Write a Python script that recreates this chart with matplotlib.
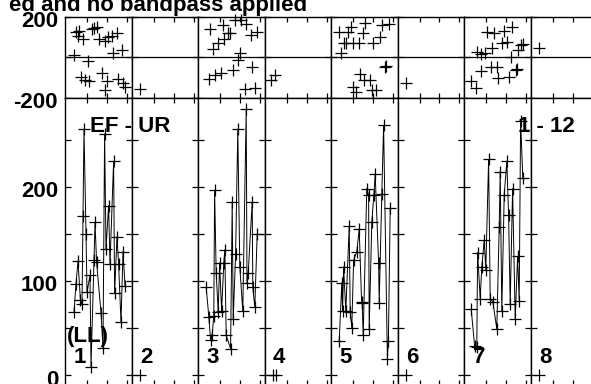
import numpy as np
import matplotlib.pyplot as plt
from matplotlib.transforms import blended_transform_factory, ScaledTranslation

plt.rcParams['font.family'] = ['Liberation Sans', 'DejaVu Sans']
plt.rcParams['font.weight'] = 'bold'
plt.rcParams['font.size'] = 16

# baseline panels, times in hours within each panel
panel_labels = ['1', '2', '3', '4', '5', '6', '7', '8']

amp_t1 = [0.35, 0.45, 0.55, 0.67, 0.75, 0.8, 0.85, 0.95, 1.0, 1.15, 1.2, 1.35, 1.4, 1.48,
          1.7, 1.8, 1.88, 1.95, 2.08, 2.15, 2.33, 2.38, 2.5, 2.58, 2.7, 2.8, 2.9]
amp1 = [67, 97, 121, 80, 75, 169, 261, 150, 88, 106, 9, 122, 162, 120,
        66, 29, 256, 134, 180, 118, 227, 87, 147, 118, 56, 131, 95]
ph_t1 = [0.35, 0.45, 0.53, 0.58, 0.68, 0.78, 0.92, 1.05, 1.12, 1.23, 1.35, 1.48, 1.62,
         1.75, 1.9, 1.92, 2.02, 2.03, 2.23, 2.28, 2.48, 2.57, 2.73, 2.82, 2.9]
ph1 = [11, 122, 105, 128, -96, 89, -112, -18, -117, 138, 143, 148, 89,
       -76, -161, 80, -120, 102, 107, 23, 118, -109, 36, -128, -145]

amp_t2, amp2, ph_t2, ph2 = [0.32], [0], [0.32], [-158]

amp_t3 = [0.31, 0.44, 0.53, 0.61, 0.69, 0.73, 0.81, 0.91, 0.98, 1.08, 1.19, 1.24, 1.31, 1.53,
          1.61, 1.66, 1.78, 1.89, 1.99, 2.14, 2.31, 2.35, 2.41, 2.61, 2.64, 2.74, 2.86]
amp3 = [93, 62, 37, 43, 63, 196, 108, 67, 119, 68, 119, 133, 42, 28,
        184, 59, 128, 261, 115, 68, 282, 98, 108, 184, 93, 72, 150]
ph_t3 = [0.44, 0.48, 0.64, 0.73, 0.89, 1.06, 1.14, 1.18, 1.39, 1.48, 1.64,
         1.73, 1.89, 1.98, 2.06, 2.23, 2.31, 2.56, 2.58, 2.73, 2.84]
ph3 = [-109, 138, 40, -87, 72, -79, 160, 89, 118, 121, -63,
       184, -13, 20, 184, -158, 164, 110, -46, -153, 126]

amp_t4, amp4, ph_t4, ph4 = [0.3, 0.45], [0, 0], [0.24, 0.4], [-112, -87]

amp_t5 = [0.31, 0.44, 0.48, 0.53, 0.64, 0.81, 0.86, 0.94, 1.03, 1.19, 1.31, 1.43, 1.46, 1.51,
          1.69, 1.78, 1.81, 1.94, 2.04, 2.11, 2.28, 2.31, 2.44, 2.53, 2.72, 2.77, 2.86]
amp5 = [36, 98, 68, 115, 68, 158, 67, 50, 122, 131, 155, 78, 76, 42,
        198, 191, 49, 162, 191, 213, 119, 77, 192, 265, 17, 36, 177]
ph_t5 = [0.29, 0.41, 0.53, 0.66, 0.74, 0.91, 0.99, 1.0, 1.16, 1.29, 1.36, 1.49,
         1.53, 1.61, 1.86, 1.96, 1.99, 2.16, 2.33, 2.46, 2.58, 2.63, 2.79]
ph5 = [122, 20, 69, 71, 126, 151, 69, -148, -170, 69, -82, 118,
       -112, 168, -112, -161, 72, -161, 102, 160, -46, -41, 164]

amp_t6, amp6, ph_t6, ph6 = [0.3], [0], [0.3], [-128]

amp_t7 = [0.26, 0.43, 0.54, 0.58, 0.71, 0.79, 0.91, 0.99, 1.13, 1.21, 1.34, 1.54, 1.66,
          1.71, 1.79, 1.91, 2.04, 2.13, 2.21, 2.33, 2.46, 2.58, 2.66, 2.73, 2.84]
amp7 = [70, 31, 30, 130, 81, 115, 143, 112, 229, 81, 78, 49, 157,
        216, 68, 191, 227, 170, 75, 198, 60, 126, 79, 270, 209]
ph_t7 = [0.23, 0.48, 0.53, 0.73, 0.76, 0.93, 1.03, 1.23, 1.31, 1.39, 1.53, 1.59,
         1.81, 1.89, 2.03, 2.14, 2.23, 2.31, 2.48, 2.56, 2.59, 2.73, 2.83]
ph7 = [-120, -153, 28, -66, 16, 23, 126, -46, 44, 118, -46, -104,
       69, 131, 77, -99, 3, 151, -63, -60, 36, 61, 66]

amp_t8, amp8, ph_t8, ph8 = [0.3], [0], [0.3], [47]

amp_t = [amp_t1, amp_t2, amp_t3, amp_t4, amp_t5, amp_t6, amp_t7, amp_t8]
amps = [amp1, amp2, amp3, amp4, amp5, amp6, amp7, amp8]
ph_t = [ph_t1, ph_t2, ph_t3, ph_t4, ph_t5, ph_t6, ph_t7, ph_t8]
phs = [ph1, ph2, ph3, ph4, ph5, ph6, ph7, ph8]

W, H = 591, 384
fig = plt.figure(figsize=(W / 100, H / 100), dpi=100)
shift = ScaledTranslation(0, -2.5 / 100, fig.dpi_scale_trans)

x0, pw = 65, 66.5
for i in range(8):
    left = (x0 + i * pw) / W
    ax_top = fig.add_axes([left, 1 - 97.7 / H, pw / W, 81 / H])
    ax_bot = fig.add_axes([left, 1 - 385 / H, pw / W, 287.3 / H])

    for ax in (ax_top, ax_bot):
        ax.set_xlim(-0.1, 3.225)
        ax.set_xticks([1, 2, 3])
        ax.tick_params(axis='x', direction='in', top=True, bottom=True,
                       labelbottom=False, length=3.3, width=0.9)
        ax.tick_params(axis='y', direction='in', left=True, right=True,
                       length=4.3, width=0.9, pad=5, labelsize=16)
        for sp in ax.spines.values():
            sp.set_linewidth(1.0)

    # phase
    ax_top.set_ylim(-200, 200)
    ax_top.set_yticks([-200, 0, 200])
    ax_top.axhline(0, color='k', lw=0.9)
    ax_top.plot(ph_t[i], phs[i], '+', color='k', ms=9, mew=0.9, clip_on=False)

    # amplitude
    ax_bot.set_ylim(-10.6, 294.5)
    ax_bot.set_yticks(np.arange(0, 300, 50))
    ax_bot.plot(amp_t[i], amps[i], '-', color='k', lw=0.7)
    ax_bot.plot(amp_t[i], amps[i], '+', color='k', ms=9, mew=0.9)

    if i == 0:
        ax_top.set_yticklabels(['-200', '', '200'], fontweight='bold')
        ax_bot.set_yticklabels(['0', '', '100', '', '200', ''], fontweight='bold')
        for lab in ax_top.get_yticklabels() + ax_bot.get_yticklabels():
            lab.set_transform(lab.get_transform() + shift)
    else:
        ax_top.tick_params(axis='y', labelleft=False)
        ax_bot.tick_params(axis='y', labelleft=False)

    tr = blended_transform_factory(ax_bot.transAxes, ax_bot.transData)
    ax_bot.text(0.128, 12.4, panel_labels[i], transform=tr, ha='left',
                va='baseline', fontsize=16, fontweight='bold')
    if i == 0:
        ax_bot.text(0.03, 35.4, '(LL)', transform=tr, ha='left',
                    va='baseline', fontsize=16, fontweight='bold')

fig.text(90 / W, 1 - 131.7 / H, 'EF - UR', ha='left', va='baseline',
         fontsize=16, fontweight='bold')
fig.text(518 / W, 1 - 131.7 / H, '1 - 12', ha='left', va='baseline',
         fontsize=16, fontweight='bold')
fig.text(307 / W, 1 - 11 / H, 'ed and no bandpass applied', ha='right',
         va='baseline', fontsize=16, fontweight='bold')

fig.savefig('out.png', dpi=100)
